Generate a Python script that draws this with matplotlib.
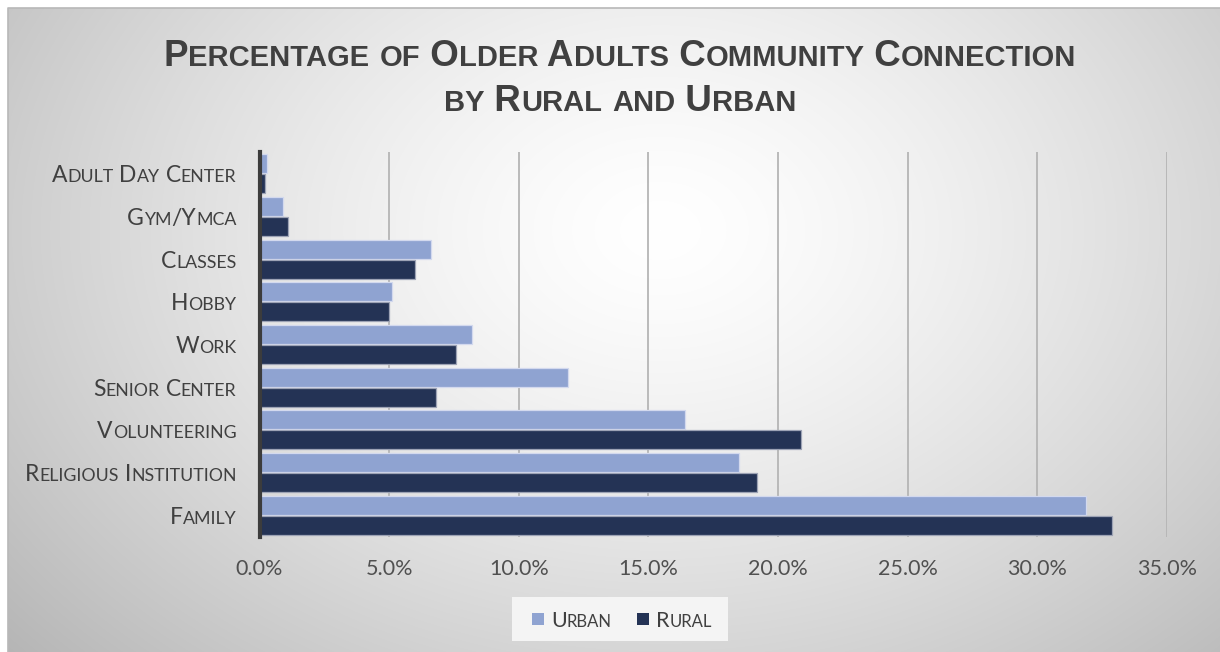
import matplotlib
matplotlib.use('Agg')
import numpy as np
import matplotlib.pyplot as plt
from matplotlib import transforms
from matplotlib.font_manager import FontProperties
from matplotlib.patches import Rectangle

# data (percent)
categories = ['Adult Day Center', 'Gym/Ymca', 'Classes', 'Hobby', 'Work',
              'Senior Center', 'Volunteering', 'Religious Institution', 'Family']
urban = [0.3, 0.9, 6.6, 5.1, 8.2, 11.9, 16.4, 18.5, 31.9]
rural = [0.2, 1.1, 6.0, 5.0, 7.6, 6.8, 20.9, 19.2, 32.9]
x_ticks = [0, 5, 10, 15, 20, 25, 30, 35]
series_names = ['Urban', 'Rural']
title_lines = ['Percentage of Older Adults Community Connection', 'by Rural and Urban']

c_urban = '#8fa3d1'
c_rural = '#243355'
c_text = '#404040'
label_font = ['Lato', 'DejaVu Sans']
title_font = ['Liberation Sans Narrow', 'Liberation Sans', 'DejaVu Sans']

W, H = 1220, 652
fig = plt.figure(figsize=(W / 100, H / 100), dpi=100)
fig.patch.set_facecolor('white')

# radial gray gradient behind the whole chart
bg = fig.add_axes([0, 0, 1, 1], zorder=-10)
bg.set_xlim(0, W)
bg.set_ylim(H, 0)
bg.axis('off')
yy, xx = np.mgrid[0:H, 0:W]
r = np.hypot((xx - 660) / 760, (yy - 230) / 560)
shade = 1 - 0.24 * np.clip(r, 0, 1.2) ** 1.4
img = np.dstack([shade, shade, shade])
img[:8, :, :] = 1
img[:, :8, :] = 1
bg.imshow(img, extent=[0, W, H, 0], aspect='auto', interpolation='bilinear')
bg.plot([8, 8, W], [H, 8, 8], color='#b8b8b8', lw=1.2)

# main axes
ax = fig.add_axes([259.5 / W, 1 - 536.5 / H, 907.2 / W, 384 / H])
ax.patch.set_alpha(0)
y = np.arange(len(categories))
bh = 0.45
ax.barh(y - 0.235, urban, height=bh, color=c_urban, edgecolor='#d3d9ee', lw=0.9, zorder=3)
ax.barh(y + 0.235, rural, height=bh, color=c_rural, edgecolor='#9da3b5', lw=0.9, zorder=3)
ax.set_xlim(0, 35)
ax.set_ylim(len(categories) - 0.5, -0.5)
ax.set_xticks(x_ticks)
ax.set_xticklabels(['{:.1f}%'.format(v) for v in x_ticks])
ax.set_yticks(y)
ax.set_yticklabels([])
ax.tick_params(axis='x', length=0, pad=16, labelsize=15.5, labelcolor='#505050')
ax.tick_params(axis='y', length=0)
for lab in ax.get_xticklabels():
    lab.set_family(label_font)
ax.xaxis.grid(True, color='#b5b5b5', lw=1.3, zorder=0)
for s in ['top', 'right', 'bottom']:
    ax.spines[s].set_visible(False)
ax.spines['left'].set_color('#3c3c3c')
ax.spines['left'].set_linewidth(3)
ax.spines['left'].set_zorder(4)

renderer = fig.canvas.get_renderer()


def sc_runs(text):
    runs = []
    for ch in text:
        small = ch.islower()
        if runs and runs[-1][1] == small:
            runs[-1][0] += ch.upper()
        else:
            runs.append([ch.upper(), small])
    return runs


def small_caps(x, y, text, big, small, trans, ha='left', dx=0, dy=0, family=label_font,
               weight='normal', color=c_text):
    runs = sc_runs(text)
    widths = []
    for s, is_small in runs:
        fp = FontProperties(family=family, size=small if is_small else big, weight=weight)
        w1 = renderer.get_text_width_height_descent('|' + s + '|', fp, ismath=False)[0]
        w0 = renderer.get_text_width_height_descent('||', fp, ismath=False)[0]
        widths.append(w1 - w0)
    total = sum(widths)
    off = dx + {'left': 0, 'center': -total / 2, 'right': -total}[ha]
    for (s, is_small), w in zip(runs, widths):
        t = transforms.offset_copy(trans, fig=fig, x=off, y=dy, units='dots')
        fig.text(x, y, s, transform=t, ha='left', va='baseline',
                 fontsize=small if is_small else big, family=family,
                 weight=weight, color=color)
        off += w


def cap_height(size, family, weight='normal'):
    fp = FontProperties(family=family, size=size, weight=weight)
    return renderer.get_text_width_height_descent('H', fp, ismath=False)[1]


# category labels, right edge about 23 px left of the axis
lab_trans = transforms.blended_transform_factory(ax.transAxes, ax.transData)
ch = cap_height(16.5, label_font)
for i, name in enumerate(categories):
    small_caps(0, i, name, 16.5, 12.8, lab_trans, ha='right', dx=-23, dy=-ch / 2)

# title
px = fig.transFigure
small_caps(620 / W, 1 - 65.5 / H, title_lines[0], 26.5, 21, px, ha='center',
           family=title_font, weight='bold')
small_caps(620 / W, 1 - 111 / H, title_lines[1], 26.5, 21, px, ha='center',
           family=title_font, weight='bold')

# legend
bg.add_patch(Rectangle((512, 597), 216, 44, facecolor='#f4f4f4', edgecolor='none', zorder=2))
bg.add_patch(Rectangle((532, 613), 12, 12, facecolor=c_urban, edgecolor='none', zorder=3))
bg.add_patch(Rectangle((637, 613), 12, 12, facecolor=c_rural, edgecolor='none', zorder=3))
small_caps(551 / W, 1 - 627 / H, series_names[0], 15.5, 12, px)
small_caps(656 / W, 1 - 627 / H, series_names[1], 15.5, 12, px)

fig.savefig('out.png', dpi=100)
